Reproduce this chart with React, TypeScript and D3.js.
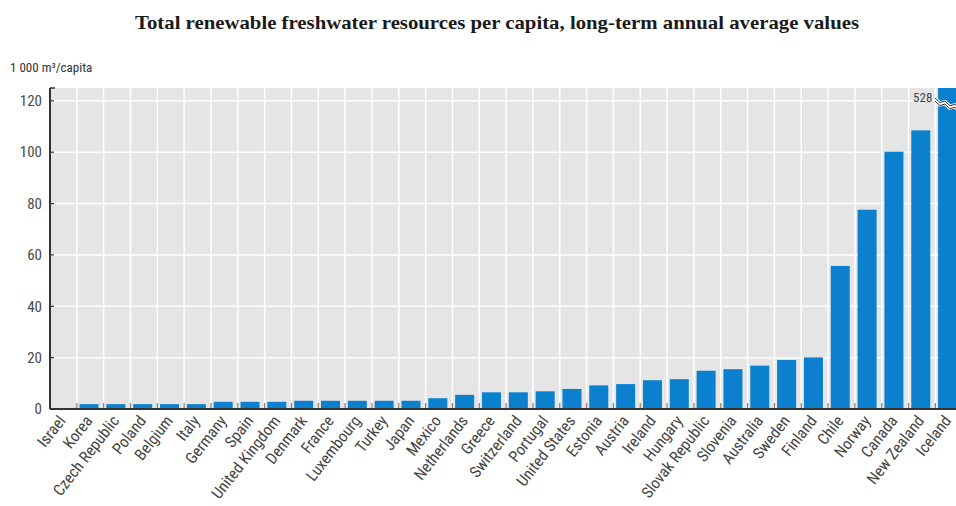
import React from "react";
import * as d3 from "d3";

const countries = [
  "Israel", "Korea", "Czech Republic", "Poland", "Belgium", "Italy", "Germany", "Spain",
  "United Kingdom", "Denmark", "France", "Luxembourg", "Turkey", "Japan", "Mexico",
  "Netherlands", "Greece", "Switzerland", "Portugal", "United States", "Estonia", "Austria",
  "Ireland", "Hungary", "Slovak Republic", "Slovenia", "Australia", "Sweden", "Finland",
  "Chile", "Norway", "Canada", "New Zealand", "Iceland",
];
const values = [
  0.1, 1.9, 1.9, 1.9, 1.9, 1.9, 2.8, 2.8, 2.8, 3.2, 3.2, 3.2, 3.2, 3.2, 4.2,
  5.5, 6.5, 6.5, 6.9, 7.8, 9.2, 9.7, 11.2, 11.6, 14.9, 15.5, 16.9, 19.1, 20.1,
  55.7, 77.6, 100.2, 108.5, 528,
];
const yTicks = [0, 20, 40, 60, 80, 100, 120];
const title = "Total renewable freshwater resources per capita, long-term annual average values";
const unitLabel = "1 000 m³/capita";
const yMax = 125;

const W = 956, H = 506;
const left = 50, top = 88, bottom = 409;
const band = 26.83;

export default function App() {
  const x = d3.scaleBand<string>().domain(countries).range([left, left + band * countries.length]).paddingInner(0).paddingOuter(0);
  const y = d3.scaleLinear().domain([0, yMax]).range([bottom, top]);
  const right = left + band * countries.length;
  const bw = x.bandwidth();
  const barW = 19;
  const narrow = "'Liberation Sans Narrow', 'Roboto Condensed', 'Liberation Sans', Arial, sans-serif";
  const brk = (i: number) => {
    const x0 = (x(countries[i]) as number) + 2.5;
    const yb = y(119);
    const pts: [number, number][] = [];
    const n = 5;
    for (let k = 0; k <= n; k++) {
      const xx = x0 - 3 + (k * (barW + 6)) / n;
      pts.push([xx, yb - 4 + k * 1.6 + (k % 2 === 0 ? -1.5 : 1.5)]);
    }
    return d3.line()(pts) as string;
  };
  return (
    <svg width={W} height={H} style={{ display: "block", position: "absolute", left: 0, top: 0 }}>
      <rect x={0} y={0} width={W} height={H} fill="#fff" />
      <text x={497} y={29} textAnchor="middle" fontFamily="'Liberation Serif', 'DejaVu Serif', serif" fontWeight="bold" fontSize={19} fill="#1a1a1a" textLength={724} lengthAdjust="spacingAndGlyphs">{title}</text>
      <text x={10} y={72} fontFamily={narrow} fontSize={13} fill="#333">{unitLabel}</text>
      <rect x={left} y={top} width={right - left} height={bottom - top} fill="#e5e5e6" />
      {yTicks.filter(t => t > 0).map(t => (
        <line key={"g" + t} x1={left} x2={right} y1={y(t)} y2={y(t)} stroke="#fff" strokeWidth={1.5} />
      ))}
      {countries.slice(1).map(c => (
        <line key={"v" + c} x1={x(c)} x2={x(c)} y1={top} y2={bottom} stroke="#fff" strokeWidth={1.5} />
      ))}
      {countries.map((c, i) => {
        const v = Math.min(values[i], yMax);
        return (
          <rect key={c} x={(x(c) as number) + 2.7} y={y(v)} width={barW} height={bottom - y(v)} fill="#0b80cf" />
        );
      })}
      {countries.slice(1).map(c => (
        <line key={"t" + c} x1={x(c)} x2={x(c)} y1={bottom - 6} y2={bottom} stroke="#8a7d70" strokeWidth={1.2} />
      ))}
      {values.map((v, i) => v > yMax ? (
        <g key={"b" + i}>
          <path d={brk(i)} fill="none" stroke="#fff" strokeWidth={5} transform="translate(0,1.5)" />
          <path d={brk(i)} fill="none" stroke="#333" strokeWidth={1} />
          <path d={brk(i)} fill="none" stroke="#333" strokeWidth={1} transform="translate(0,3)" />
          <text x={(x(countries[i]) as number) - 3} y={y(119) - 1} textAnchor="end" fontFamily={narrow} fontSize={13} fill="#444">{v}</text>
        </g>
      ) : null)}
      <line x1={left} x2={left} y1={top} y2={bottom} stroke="#333" strokeWidth={2} />
      <line x1={left} x2={right} y1={bottom} y2={bottom} stroke="#333" strokeWidth={2} />
      <line x1={left} x2={left + 5} y1={top} y2={top} stroke="#333" strokeWidth={1.5} />
      {yTicks.map(t => (
        <g key={"y" + t}>
          {t > 0 && <line x1={left} x2={left + 4} y1={y(t)} y2={y(t)} stroke="#333" strokeWidth={1.2} />}
          <text x={42} y={y(t)} dy="0.35em" textAnchor="end" fontFamily={narrow} fontSize={15} fill="#4a4a4a">{t}</text>
        </g>
      ))}
      {countries.map(c => {
        const cx = (x(c) as number) + bw / 2 + 3;
        return (
          <text key={"l" + c} transform={`translate(${cx},${bottom + 12}) rotate(-52)`} textAnchor="end" fontFamily={narrow} fontSize={16} fill="#444">{c}</text>
        );
      })}
    </svg>
  );
}
